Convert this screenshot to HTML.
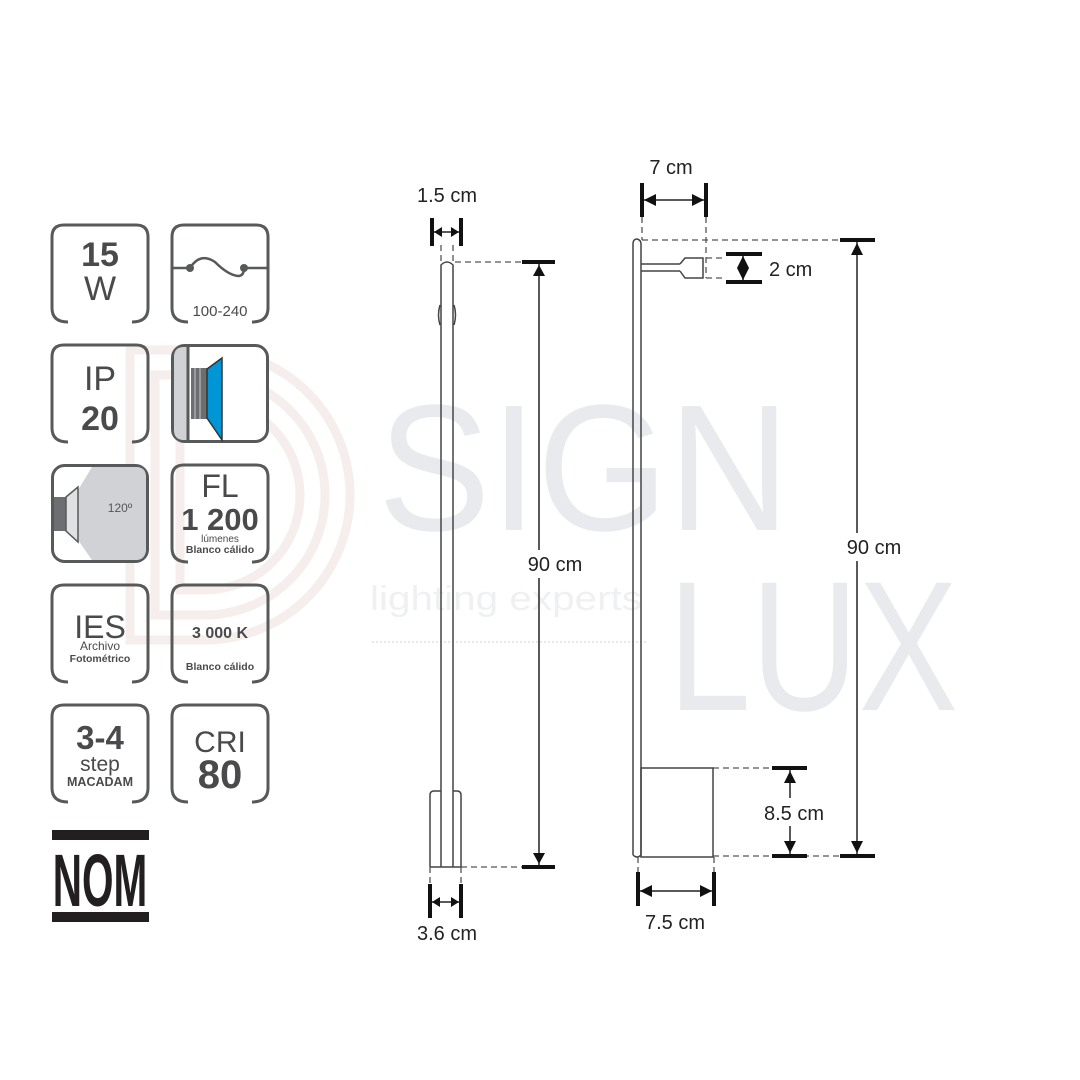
<!DOCTYPE html>
<html><head><meta charset="utf-8"><style>
html,body{margin:0;padding:0;background:#fff}
svg{display:block}
text{font-family:"Liberation Sans",sans-serif}
</style></head><body>
<svg width="1080" height="1080" viewBox="0 0 1080 1080" xmlns="http://www.w3.org/2000/svg">
<!-- watermark -->
<g fill="none" stroke="#f5eeec" stroke-width="9">
<path d="M130 350 L205 350 A145 145 0 0 1 205 640 L130 640 Z"/>
<path d="M155 375 L205 375 A120 120 0 0 1 205 615 L155 615 Z"/>
<path d="M180 400 L205 400 A95 95 0 0 1 205 590 L180 590 Z"/>
</g>
<g fill="#e8eaee">
<text x="378" y="530" font-size="180" textLength="412" lengthAdjust="spacingAndGlyphs">SIGN</text>
<text x="668" y="710" font-size="185" textLength="290" lengthAdjust="spacingAndGlyphs">LUX</text>
</g>
<text x="370" y="610" font-size="34" fill="#eef0f2" textLength="272" lengthAdjust="spacingAndGlyphs">lighting experts</text>
<line x1="372" y1="642" x2="648" y2="642" stroke="#e8e8ea" stroke-width="2" stroke-dasharray="2 2"/>

<!-- icon boxes -->
<g fill="none" stroke="#58595b" stroke-width="3">
<path d="M68 322 Q52 322 52 308 L52 237 Q52 225 64 225 L136 225 Q148 225 148 237 L148 308 Q148 322 132 322"/>
<path d="M188 322 Q172 322 172 308 L172 237 Q172 225 184 225 L256 225 Q268 225 268 237 L268 308 Q268 322 252 322"/>
<path d="M68 442 Q52 442 52 428 L52 357 Q52 345 64 345 L136 345 Q148 345 148 357 L148 428 Q148 442 132 442"/>
<path d="M188 562 Q172 562 172 548 L172 477 Q172 465 184 465 L256 465 Q268 465 268 477 L268 548 Q268 562 252 562"/>
<path d="M68 682 Q52 682 52 668 L52 597 Q52 585 64 585 L136 585 Q148 585 148 597 L148 668 Q148 682 132 682"/>
<path d="M188 682 Q172 682 172 668 L172 597 Q172 585 184 585 L256 585 Q268 585 268 597 L268 668 Q268 682 252 682"/>
<path d="M68 802 Q52 802 52 788 L52 717 Q52 705 64 705 L136 705 Q148 705 148 717 L148 788 Q148 802 132 802"/>
<path d="M188 802 Q172 802 172 788 L172 717 Q172 705 184 705 L256 705 Q268 705 268 717 L268 788 Q268 802 252 802"/>
</g>
<!-- IP image box -->
<rect x="172.5" y="345.5" width="95" height="96" rx="12" fill="#fff" stroke="#58595b" stroke-width="3"/>
<path d="M174 357 Q174 347 184 347 L188 347 L188 440 L184 440 Q174 440 174 430 Z" fill="#d0d2d5"/>
<line x1="188" y1="346" x2="188" y2="441" stroke="#58595b" stroke-width="3"/>
<rect x="191" y="368" width="16" height="51" fill="#6d6e71"/>
<line x1="195" y1="368" x2="195" y2="419" stroke="#aaa" stroke-width="1.5"/>
<line x1="200" y1="368" x2="200" y2="419" stroke="#aaa" stroke-width="1.5"/>
<polygon points="207,369 222,358 222,440 207,418" fill="#0096d6" stroke="#333" stroke-width="1.5"/>
<!-- 120 box -->
<rect x="52.5" y="465.5" width="95" height="96" rx="12" fill="#fff" stroke="#58595b" stroke-width="3"/>
<path d="M78 490 L92 467 L136 467 Q146 467 146 477 L146 548 Q146 560 136 560 L92 560 L78 540 Z" fill="#d0d2d5"/>
<rect x="54" y="497" width="12" height="34" fill="#6d6e71"/>
<polygon points="66,497 78,487 78,542 66,531" fill="#e0e1e3" stroke="#58595b" stroke-width="1.5"/>
<text x="120" y="512" font-size="12" fill="#555" text-anchor="middle">120º</text>
<!-- wave -->
<g stroke="#58595b" stroke-width="2.5" fill="none">
<path d="M172 268 L190 268 Q200 252 215 262 Q228 275 238 276 Q244 276 244 268 L268 268"/>
</g>
<circle cx="190" cy="268" r="4" fill="#58595b"/><circle cx="244" cy="268" r="4" fill="#58595b"/>

<g fill="#4a4a4d" text-anchor="middle">
<text x="100" y="266" font-size="34" font-weight="bold">15</text>
<text x="100" y="300" font-size="34">W</text>
<text x="220" y="316" font-size="15">100-240</text>
<text x="100" y="390" font-size="34">IP</text>
<text x="100" y="430" font-size="34" font-weight="bold">20</text>
<text x="220" y="497" font-size="32">FL</text>
<text x="220" y="530" font-size="31" font-weight="bold">1 200</text>
<text x="220" y="542" font-size="10">lúmenes</text>
<text x="220" y="553" font-size="10.5" font-weight="bold">Blanco cálido</text>
<text x="100" y="638" font-size="32">IES</text>
<text x="100" y="650" font-size="12">Archivo</text>
<text x="100" y="662" font-size="10.5" font-weight="bold">Fotométrico</text>
<text x="220" y="638" font-size="16" font-weight="bold">3 000 K</text>
<text x="220" y="670" font-size="10.5" font-weight="bold">Blanco cálido</text>
<text x="100" y="749" font-size="33" font-weight="bold">3-4</text>
<text x="100" y="771" font-size="21">step</text>
<text x="100" y="786" font-size="12.5" font-weight="bold">MACADAM</text>
<text x="220" y="752" font-size="30">CRI</text>
<text x="220" y="788" font-size="40" font-weight="bold">80</text>
</g>
<!-- NOM -->
<rect x="52" y="830" width="97" height="10" fill="#231f20"/>
<rect x="52" y="912" width="97" height="10" fill="#231f20"/>
<text x="100" y="906" font-size="74" font-weight="bold" fill="#231f20" text-anchor="middle" transform="translate(100 0) scale(0.7 1) translate(-100 0)" textLength="135" lengthAdjust="spacingAndGlyphs">NOM</text>

<!-- left lamp -->
<g stroke="#444" stroke-width="1.5" fill="none">
<path d="M441 867 L441 265 Q447 259 453 265 L453 867"/>
<path d="M430 867 L430 795 Q430 791 434 791 L441 791 M453 791 L457 791 Q461 791 461 795 L461 867 L430 867"/>
<path d="M440 305 Q437 315 440 325 M454 305 Q457 315 454 325"/>
</g>
<g stroke="#555" stroke-width="1.3" fill="none" stroke-dasharray="6 4">
<line x1="455" y1="262" x2="522" y2="262"/>
<line x1="461" y1="867" x2="522" y2="867"/>
<line x1="441" y1="245" x2="441" y2="262"/><line x1="453" y1="245" x2="453" y2="262"/>
<line x1="430" y1="867" x2="430" y2="883"/><line x1="461" y1="867" x2="461" y2="883"/>
<line x1="642" y1="217" x2="642" y2="240"/><line x1="706" y1="217" x2="706" y2="278"/>
<line x1="642" y1="240" x2="840" y2="240"/>
<line x1="706" y1="258" x2="726" y2="258"/><line x1="706" y1="278" x2="726" y2="278"/>
<line x1="713" y1="768" x2="772" y2="768"/>
<line x1="713" y1="856" x2="840" y2="856"/>
<line x1="638" y1="857" x2="638" y2="872"/><line x1="714" y1="857" x2="714" y2="872"/>
</g>
<!-- ticks -->
<g stroke="#111" stroke-width="4">
<line x1="432" y1="218" x2="432" y2="246"/><line x1="461" y1="218" x2="461" y2="246"/>
<line x1="522" y1="262" x2="555" y2="262"/><line x1="522" y1="867" x2="555" y2="867"/>
<line x1="430" y1="884" x2="430" y2="918"/><line x1="461" y1="884" x2="461" y2="918"/>
<line x1="642" y1="183" x2="642" y2="217"/><line x1="706" y1="183" x2="706" y2="217"/>
<line x1="840" y1="240" x2="875" y2="240"/><line x1="840" y1="856" x2="875" y2="856"/>
<line x1="726" y1="254" x2="762" y2="254"/><line x1="726" y1="282" x2="762" y2="282"/>
<line x1="772" y1="768" x2="807" y2="768"/><line x1="772" y1="856" x2="807" y2="856"/>
<line x1="638" y1="872" x2="638" y2="906"/><line x1="714" y1="872" x2="714" y2="906"/>
</g>
<g stroke="#222" stroke-width="1.5">
<line x1="434" y1="232" x2="459" y2="232"/>
<line x1="539" y1="264" x2="539" y2="865"/>
<line x1="432" y1="902" x2="459" y2="902"/>
<line x1="644" y1="200" x2="704" y2="200"/>
<line x1="857" y1="242" x2="857" y2="854"/>
<line x1="743" y1="256" x2="743" y2="280"/>
<line x1="790" y1="770" x2="790" y2="854"/>
<line x1="640" y1="891" x2="712" y2="891"/>
</g>
<g fill="#111">
<polygon points="434,232 442,227 442,237"/><polygon points="459,232 451,227 451,237"/>
<polygon points="539,265 533,276 545,276"/><polygon points="539,864 533,853 545,853"/>
<polygon points="432,902 440,897 440,907"/><polygon points="459,902 451,897 451,907"/>
<polygon points="644,200 656,194 656,206"/><polygon points="704,200 692,194 692,206"/>
<polygon points="857,243 851,255 863,255"/><polygon points="857,853 851,841 863,841"/>
<polygon points="743,256 737,268 749,268"/><polygon points="743,280 737,268 749,268"/>
<polygon points="790,771 784,783 796,783"/><polygon points="790,853 784,841 796,841"/>
<polygon points="640,891 652,885 652,897"/><polygon points="712,891 700,885 700,897"/>
</g>
<!-- label backgrounds -->
<rect x="522" y="550" width="64" height="28" fill="#fff"/>
<rect x="840" y="533" width="66" height="28" fill="#fff"/>
<rect x="758" y="798" width="72" height="28" fill="#fff"/>
<!-- right lamp -->
<g stroke="#444" stroke-width="1.5" fill="none">
<path d="M633 855 L633 244 Q633 239 637 239 Q641 240 641 244 L641 855 Q637 859 633 855"/>
<rect x="641" y="768" width="72" height="89"/>
<line x1="641" y1="264" x2="680" y2="264"/><line x1="641" y1="271" x2="680" y2="271"/>
<path d="M680 264 L685 258 L703 258 L703 278 L685 278 L680 271"/>
</g>
<g fill="#222" font-size="20">
<text x="447" y="202" text-anchor="middle">1.5 cm</text>
<text x="671" y="174" text-anchor="middle">7 cm</text>
<text x="769" y="276">2 cm</text>
<text x="555" y="571" text-anchor="middle">90 cm</text>
<text x="874" y="554" text-anchor="middle">90 cm</text>
<text x="794" y="820" text-anchor="middle">8.5 cm</text>
<text x="447" y="940" text-anchor="middle">3.6 cm</text>
<text x="675" y="929" text-anchor="middle">7.5 cm</text>
</g>
</svg>
</body></html>
